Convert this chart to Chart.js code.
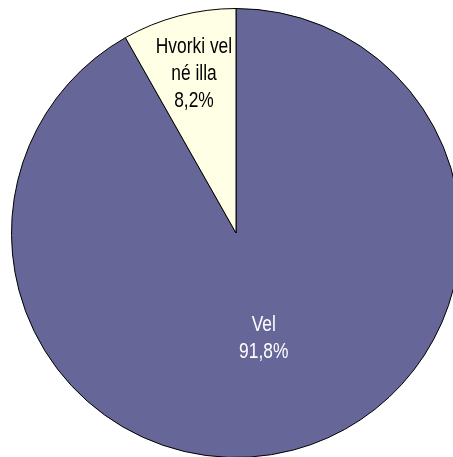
<!DOCTYPE html>
<html>
<head>
<meta charset="utf-8">
<script src="https://cdn.jsdelivr.net/npm/chart.js@4"></script>
<style>
  html, body { margin: 0; padding: 0; background: #ffffff; overflow: hidden; }
  #wrap { position: absolute; left: 0; top: 0; width: 472px; height: 466px; }
</style>
</head>
<body>
<div id="wrap"><canvas id="pie"></canvas></div>
<script>
  // chart data
  const categories = ['Vel', 'Hvorki vel né illa'];
  const labelLines = [['Vel', '91,8%'], ['Hvorki vel', 'né illa', '8,2%']];
  const values = [91.8, 8.2];
  const colors = ['#666699', '#FFFFE6'];
  const textColors = ['#ffffff', '#000000'];
  const labelDist = [0.485, 0.735]; // fraction of radius

  // draw the in-slice labels like the original (narrow Arial look)
  const sliceLabels = {
    id: 'sliceLabels',
    afterDatasetsDraw(chart) {
      const ctx = chart.ctx;
      const meta = chart.getDatasetMeta(0);
      const squeeze = 0.79;
      meta.data.forEach((arc, i) => {
        const mid = (arc.startAngle + arc.endAngle) / 2;
        const r = arc.outerRadius * labelDist[i];
        const x = arc.x + Math.cos(mid) * r;
        const y = arc.y + Math.sin(mid) * r;
        const lines = labelLines[i];
        const lh = 27;
        ctx.save();
        ctx.translate(x, y);
        ctx.scale(squeeze, 1);
        ctx.font = '22px "Liberation Sans", Arial, sans-serif';
        ctx.textAlign = 'center';
        ctx.textBaseline = 'middle';
        ctx.fillStyle = textColors[i];
        lines.forEach((t, j) => {
          ctx.fillText(t, 0, (j - (lines.length - 1) / 2) * lh);
        });
        ctx.restore();
      });
    }
  };

  new Chart(document.getElementById('pie'), {
    type: 'pie',
    data: {
      labels: categories,
      datasets: [{
        data: values,
        backgroundColor: colors,
        borderColor: '#000000',
        borderWidth: 1
      }]
    },
    options: {
      responsive: true,
      maintainAspectRatio: false,
      animation: false,
      layout: { padding: 8 },
      plugins: {
        legend: { display: false },
        tooltip: { enabled: false }
      }
    },
    plugins: [sliceLabels]
  });
</script>
</body>
</html>
